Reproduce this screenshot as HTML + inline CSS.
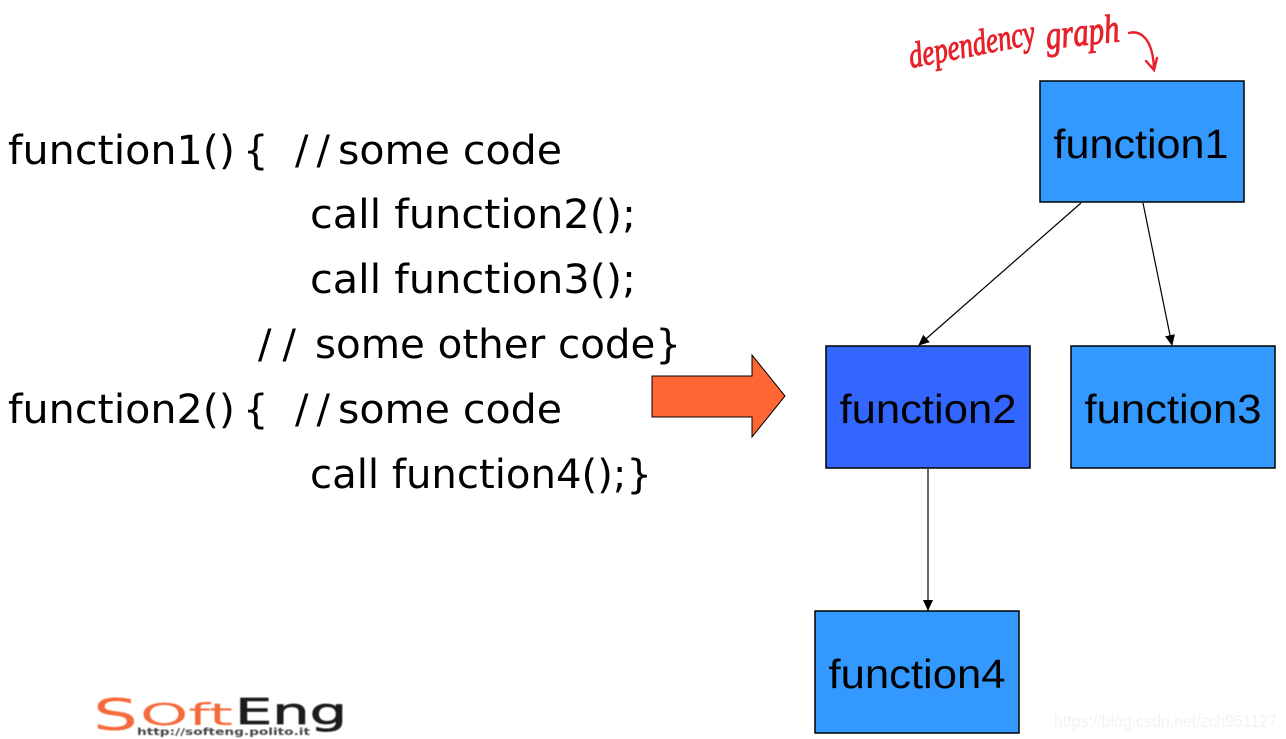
<!DOCTYPE html>
<html><head><meta charset="utf-8"><style>
html,body{margin:0;padding:0;background:#fff}
svg{display:block}
.c{font-family:"DejaVu Sans","Liberation Sans",sans-serif;font-size:40px;fill:#000}
.s{letter-spacing:8px}
.n{font-family:"Liberation Sans",sans-serif;font-size:41px;fill:#000;text-anchor:middle}
.h{font-family:"Liberation Serif",serif;font-style:italic;fill:#e8202a;stroke:#e8202a;stroke-width:1}
</style></head><body>
<svg width="1286" height="739" viewBox="0 0 1286 739" xmlns="http://www.w3.org/2000/svg">
<defs><marker id="a" markerWidth="12" markerHeight="12" refX="10" refY="5" orient="auto" markerUnits="userSpaceOnUse"><path d="M0 0L11 5L0 10z" fill="#000"/></marker>
<filter id="b"><feGaussianBlur stdDeviation="0.5"/></filter></defs>
<rect width="1286" height="739" fill="#fff"/>
<text class="c" x="8" y="164" textLength="227" lengthAdjust="spacingAndGlyphs">function1()</text>
<text class="c" x="243" y="164">{</text>
<text class="c s" x="295" y="164">//</text>
<text class="c" x="338" y="164" textLength="224" lengthAdjust="spacingAndGlyphs">some code</text>
<text class="c" x="310" y="228" textLength="326" lengthAdjust="spacingAndGlyphs">call function2();</text>
<text class="c" x="310" y="293" textLength="326" lengthAdjust="spacingAndGlyphs">call function3();</text>
<text class="c s" x="258" y="358" style="letter-spacing:11px">//</text>
<text class="c" x="315" y="358" textLength="366" lengthAdjust="spacingAndGlyphs">some other code}</text>
<text class="c" x="8" y="423" textLength="227" lengthAdjust="spacingAndGlyphs">function2()</text>
<text class="c" x="243" y="423">{</text>
<text class="c s" x="295" y="423">//</text>
<text class="c" x="338" y="423" textLength="224" lengthAdjust="spacingAndGlyphs">some code</text>
<text class="c" x="310" y="488" textLength="342" lengthAdjust="spacingAndGlyphs">call function4();}</text>
<path d="M652 376H752V355L785 396L752 437V417H652Z" fill="#f63" stroke="#000" stroke-width="1"/>
<rect x="1040" y="81" width="204" height="121" fill="#39f" stroke="#000" stroke-width="1.5"/>
<rect x="826" y="346" width="204" height="122" fill="#36f" stroke="#000" stroke-width="1.5"/>
<rect x="1071" y="346" width="204" height="122" fill="#39f" stroke="#000" stroke-width="1.5"/>
<rect x="815" y="611" width="204" height="122" fill="#39f" stroke="#000" stroke-width="1.5"/>
<text class="n" x="1141" y="158" textLength="175" lengthAdjust="spacingAndGlyphs">function1</text>
<text class="n" x="928" y="423" textLength="177" lengthAdjust="spacingAndGlyphs">function2</text>
<text class="n" x="1173" y="423" textLength="177" lengthAdjust="spacingAndGlyphs">function3</text>
<text class="n" x="917" y="688" textLength="177" lengthAdjust="spacingAndGlyphs">function4</text>
<g stroke="#000" stroke-width="1.2" fill="none">
<line x1="1081" y1="203" x2="919" y2="345" marker-end="url(#a)"/>
<line x1="1143" y1="203" x2="1172" y2="345" marker-end="url(#a)"/>
<line x1="928" y1="469" x2="928" y2="610" marker-end="url(#a)"/>
</g>
<text class="h" transform="translate(911 68) rotate(-11)" font-size="36" textLength="128" lengthAdjust="spacingAndGlyphs">dependency</text>
<text class="h" transform="translate(1047 49) rotate(-6)" font-size="40" textLength="74" lengthAdjust="spacingAndGlyphs">graph</text>
<path d="M1129 33C1140 30 1153 38 1154 69M1146 61L1154 70L1157 58" fill="none" stroke="#e8202a" stroke-width="2.4" stroke-linecap="round"/>
<g font-family="'DejaVu Sans',sans-serif" filter="url(#b)">
<text x="93" y="730" font-size="44" fill="#f6693a" textLength="45" lengthAdjust="spacingAndGlyphs">S</text>
<text x="140" y="725" font-size="30" fill="#f6693a" textLength="93" lengthAdjust="spacingAndGlyphs">Oft</text>
<text x="235" y="724" font-size="36" fill="#1a1a1a" stroke="#1a1a1a" stroke-width="0.7" textLength="112" lengthAdjust="spacingAndGlyphs">Eng</text>
<text x="137" y="735" font-size="10" font-weight="bold" fill="#444" textLength="173" lengthAdjust="spacingAndGlyphs">http://softeng.polito.it</text>
</g>
<text x="1054" y="727" font-family="'Liberation Sans',sans-serif" font-size="17.5" fill="#f2f2f2" textLength="223" lengthAdjust="spacingAndGlyphs">https://blog.csdn.net/zch951127</text>
</svg>
</body></html>
